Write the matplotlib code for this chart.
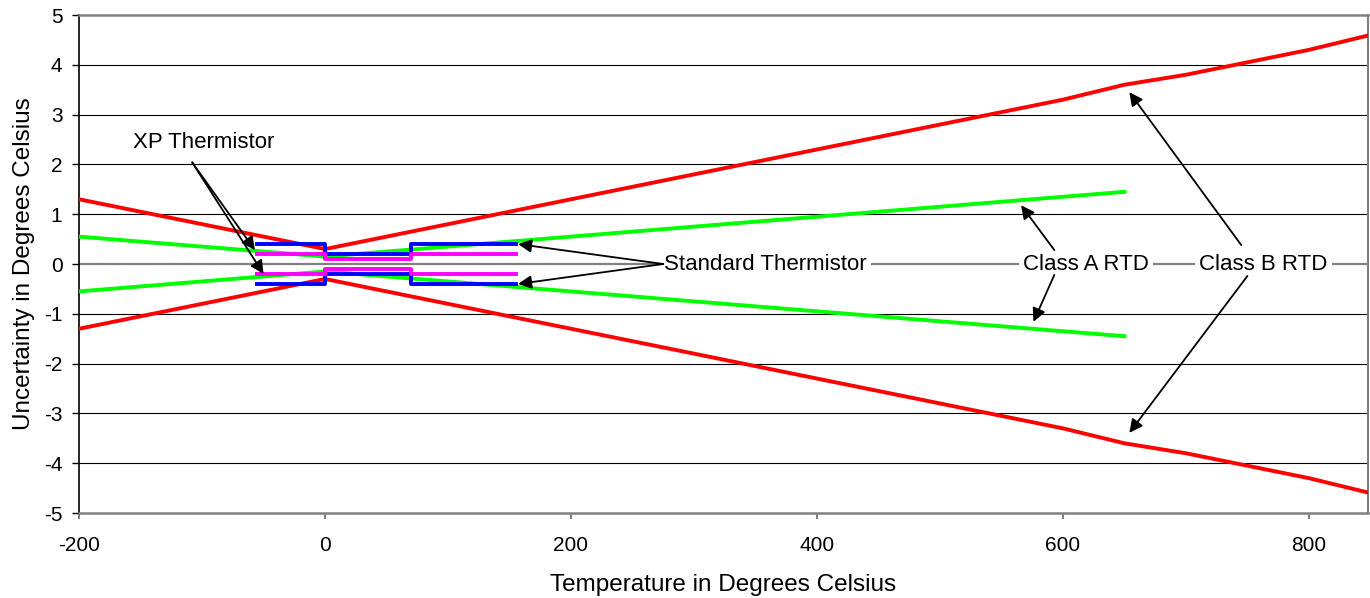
import matplotlib
matplotlib.use("Agg")
import matplotlib.pyplot as plt

plt.rcParams['font.family'] = ['Liberation Sans', 'DejaVu Sans']
plt.rcParams['axes.unicode_minus'] = False

# Class B RTD tolerance band
rtd_b_x = [-200, 0, 600, 650, 700, 800, 850]
rtd_b_hi = [1.3, 0.3, 3.3, 3.6, 3.8, 4.3, 4.6]
rtd_b_lo = [-1.3, -0.3, -3.3, -3.6, -3.8, -4.3, -4.6]

# Class A RTD tolerance band
rtd_a_x = [-200, 0, 650]
rtd_a_hi = [0.55, 0.15, 1.45]
rtd_a_lo = [-0.55, -0.15, -1.45]

# thermistors (stepped)
therm_x = [-55, 0, 0, 70, 70, 155]
std_hi = [0.4, 0.4, 0.2, 0.2, 0.4, 0.4]
std_lo = [-0.4, -0.4, -0.2, -0.2, -0.4, -0.4]
xp_hi = [0.2, 0.2, 0.1, 0.1, 0.2, 0.2]
xp_lo = [-0.2, -0.2, -0.1, -0.1, -0.2, -0.2]

x_ticks = [-200, 0, 200, 400, 600, 800]
y_ticks = [-5, -4, -3, -2, -1, 0, 1, 2, 3, 4, 5]

fig = plt.figure(figsize=(13.7, 5.98), dpi=100)
ax = fig.add_axes([0.0577, 0.1421, 0.9408, 0.8328])

ax.set_xlim(-200, 848)
ax.set_ylim(-5, 5)
ax.set_xticks(x_ticks)
ax.set_yticks(y_ticks)

for y in y_ticks:
    if y in (-5, 5):
        continue
    if y == 0:
        ax.axhline(0, color='#808080', lw=1.6, zorder=1)
    else:
        ax.axhline(y, color='black', lw=0.8, zorder=1)

lw = 2.8
ax.plot(rtd_b_x, rtd_b_hi, color='#ff0000', lw=lw, zorder=3)
ax.plot(rtd_b_x, rtd_b_lo, color='#ff0000', lw=lw, zorder=3)
ax.plot(rtd_a_x, rtd_a_hi, color='#00ff00', lw=lw, zorder=3)
ax.plot(rtd_a_x, rtd_a_lo, color='#00ff00', lw=lw, zorder=3)
ax.plot(therm_x, std_hi, color='#0000ff', lw=lw, zorder=4)
ax.plot(therm_x, std_lo, color='#0000ff', lw=lw, zorder=4)
ax.plot(therm_x, xp_hi, color='#ff00ff', lw=lw, zorder=5)
ax.plot(therm_x, xp_lo, color='#ff00ff', lw=lw, zorder=5)

for side in ['top', 'right', 'bottom']:
    ax.spines[side].set_color('#808080')
ax.spines['bottom'].set_linewidth(1.8)
ax.spines['top'].set_linewidth(1.8)
ax.spines['right'].set_linewidth(1.5)
ax.spines['left'].set_color('black')
ax.spines['left'].set_linewidth(1.2)

ax.tick_params(axis='x', direction='out', length=4.5, width=1.5, color='#808080',
               labelsize=15, pad=12)
ax.tick_params(axis='y', direction='out', length=5, width=1.0, color='black',
               labelsize=15, pad=7)

ax.set_xlabel('Temperature in Degrees Celsius', fontsize=17.5, labelpad=14)
ax.set_ylabel('Uncertainty in Degrees Celsius', fontsize=17.5, labelpad=6.5)

box = dict(facecolor='white', edgecolor='none', pad=3)
txt_size = 16

ax.text(-99, 2.43, 'XP Thermistor', fontsize=txt_size, ha='center', va='center', zorder=6)
ax.text(358, 0.0, 'Standard Thermistor', fontsize=txt_size, ha='center', va='center',
        bbox=box, zorder=6)
ax.text(619, 0.0, 'Class A RTD', fontsize=txt_size, ha='center', va='center',
        bbox=box, zorder=6)
ax.text(763, 0.0, 'Class B RTD', fontsize=txt_size, ha='center', va='center',
        bbox=box, zorder=6)

arrow = dict(arrowstyle='-|>', color='black', lw=1.3, mutation_scale=20,
             shrinkA=0, shrinkB=0)

def pointer(start, end):
    ax.annotate('', xy=end, xytext=start, arrowprops=arrow, zorder=7)

pointer((-108, 2.04), (-57, 0.28))
pointer((-108, 2.04), (-50, -0.2))
pointer((275, 0.0), (157, 0.4))
pointer((275, 0.0), (157, -0.4))
pointer((593, 0.28), (566, 1.18))
pointer((593, -0.22), (576, -1.16))
pointer((745, 0.38), (654, 3.45))
pointer((750, -0.24), (654, -3.39))

fig.savefig('out.png', dpi=100)
